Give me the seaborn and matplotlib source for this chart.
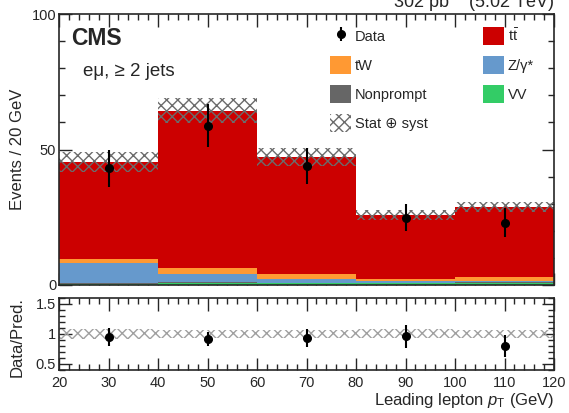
import numpy as np
import pandas as pd
import matplotlib
matplotlib.use("Agg")
import matplotlib.pyplot as plt
import matplotlib.patches as mpatches
from matplotlib.ticker import MultipleLocator, FixedLocator
import seaborn as sns

sns.set_style("ticks")
plt.rcParams['font.family'] = ['Liberation Sans', 'DejaVu Sans']
plt.rcParams['mathtext.fontset'] = 'custom'
plt.rcParams['mathtext.rm'] = 'Liberation Sans'
plt.rcParams['mathtext.it'] = 'Liberation Sans:italic'
plt.rcParams['mathtext.bf'] = 'Liberation Sans:bold'
plt.rcParams['hatch.linewidth'] = 1.0

# ---------------- data ----------------
bin_edges = [20, 40, 60, 80, 100, 120]
bin_centers = [30, 50, 70, 90, 110]
processes = ["tt", "tW", "Z", "Nonprompt", "VV"]
tt_vals = [35.9, 57.9, 43.0, 23.6, 25.6]
tw_vals = [1.5, 2.3, 1.9, 0.9, 1.5]
z_vals = [7.3, 3.1, 1.4, 0.4, 0.4]
np_vals = [0.4, 0.2, 0.2, 0.3, 0.3]
vv_vals = [0.4, 0.8, 0.6, 0.6, 0.9]
syst_unc = [3.7, 4.6, 3.3, 1.9, 1.9]
data_vals = [43.0, 58.8, 43.9, 24.8, 23.0]
data_err = [7.0, 8.0, 6.7, 5.0, 5.3]
colors = {"tt": "#cc0000", "tW": "#ff9933", "Z": "#6699cc",
          "Nonprompt": "#666666", "VV": "#33cc66"}
labels = {"tt": r"$\mathrm{t\bar{t}}$", "tW": "tW", "Z": "Z/γ*",
          "Nonprompt": "Nonprompt", "VV": "VV"}

vals = {"tt": tt_vals, "tW": tw_vals, "Z": z_vals, "Nonprompt": np_vals, "VV": vv_vals}
rows = []
for p in processes:
    for c, v in zip(bin_centers, vals[p]):
        rows.append({"pt": c, "w": v, "proc": p})
df = pd.DataFrame(rows)

total = np.sum([np.array(vals[p]) for p in processes], axis=0)
unc = np.array(syst_unc)
edges = np.array(bin_edges)

W, H = 569, 413
fig = plt.figure(figsize=(W / 100, H / 100), dpi=100)
ax = fig.add_axes([59 / W, 1 - 285 / H, 495 / W, 271 / H])
ax2 = fig.add_axes([59 / W, 1 - 370 / H, 495 / W, 72.3 / H])

sns.histplot(data=df, x="pt", weights="w", hue="proc", hue_order=processes,
             bins=bin_edges, multiple="stack", palette=colors, element="bars",
             edgecolor="none", linewidth=0, alpha=1, legend=False, ax=ax)

hatch_col = "#6b6b6b"
ax.fill_between(edges, np.append(total - unc, (total - unc)[-1]),
                np.append(total + unc, (total + unc)[-1]), step="post",
                facecolor="none", edgecolor=hatch_col, hatch="xxx", linewidth=0)

eb = ax.errorbar(bin_centers, data_vals, yerr=data_err, fmt="o", color="black",
                 ms=5.5, elinewidth=1.5, capsize=0)

ax.set_xlim(20, 120)
ax.set_ylim(0, 100)
ax.set_xlabel("")
ax.set_ylabel("Events / 20 GeV", fontsize=12)
ax.yaxis.set_label_coords(-0.069, 0.5)
ax.tick_params(labelbottom=False)

# ratio panel
rel = unc / total
ax2.fill_between(edges, np.append(1 - rel, (1 - rel)[-1]),
                 np.append(1 + rel, (1 + rel)[-1]), step="post",
                 facecolor="none", edgecolor="#a0a0a0", hatch="xxx", linewidth=0)
ratio = np.array(data_vals) / total
ratio_err = np.array(data_err) / total
ax2.errorbar(bin_centers, ratio, yerr=ratio_err, fmt="o", color="black",
             ms=5.5, elinewidth=1.5, capsize=0)
ax2.set_xlim(20, 120)
ax2.set_ylim(0.4, 1.6)
ax2.set_ylabel("Data/Pred.", fontsize=12)
ax2.yaxis.set_label_coords(-0.069, 0.45)
ax2.set_xlabel(r"Leading lepton $p_{\mathrm{T}}$ (GeV)", fontsize=12, loc="right", labelpad=1)

for a in (ax, ax2):
    a.xaxis.set_major_locator(MultipleLocator(10))
    a.xaxis.set_minor_locator(MultipleLocator(2))
    a.tick_params(which="both", direction="in", top=True, right=True,
                  labelsize=10.5, width=1.0)
    a.tick_params(which="major", length=9)
    a.tick_params(which="minor", length=4.5)
    for s in a.spines.values():
        s.set_linewidth(1.2)
        s.set_visible(True)
ax.yaxis.set_major_locator(MultipleLocator(50))
ax.yaxis.set_minor_locator(MultipleLocator(10))
ax2.yaxis.set_major_locator(FixedLocator([0.5, 1.0, 1.5]))
ax2.yaxis.set_minor_locator(MultipleLocator(0.1))
ax2.set_yticklabels(["0.5", "1", "1.5"])
ax.tick_params(axis="y", pad=2)
ax2.tick_params(axis="y", pad=2)
ax2.tick_params(axis="x", pad=4)

# texts
fig.text(71 / W, 1 - 45 / H, "CMS", fontsize=16.5, fontweight="bold", va="baseline")
fig.text(83 / W, 1 - 76 / H, "eμ, ≥ 2 jets", fontsize=13.5, va="baseline")
fig.text(554 / W, 1 - 8 / H, r"302 pb$^{-1}$ (5.02 TeV)", fontsize=13, ha="right", va="baseline")

# legend
handles = [eb,
           mpatches.Patch(facecolor=colors["tW"], edgecolor="none"),
           mpatches.Patch(facecolor=colors["Nonprompt"], edgecolor="none"),
           mpatches.Patch(facecolor="white", edgecolor=hatch_col, hatch="xxx", linewidth=0),
           mpatches.Patch(facecolor=colors["tt"], edgecolor="none"),
           mpatches.Patch(facecolor=colors["Z"], edgecolor="none"),
           mpatches.Patch(facecolor=colors["VV"], edgecolor="none")]
leg_labels = ["Data", "tW", "Nonprompt", "Stat ⊕ syst", labels["tt"], labels["Z"], labels["VV"]]
fig.legend(handles, leg_labels, loc="upper left", bbox_to_anchor=(330 / W, 1 - 27 / H),
           bbox_transform=fig.transFigure, ncol=2, frameon=False, fontsize=10.5,
           handlelength=1.45, handleheight=1.45, handletextpad=0.25,
           labelspacing=0.8, columnspacing=3.8, borderpad=0, borderaxespad=0)

fig.savefig("out.png", dpi=100)
